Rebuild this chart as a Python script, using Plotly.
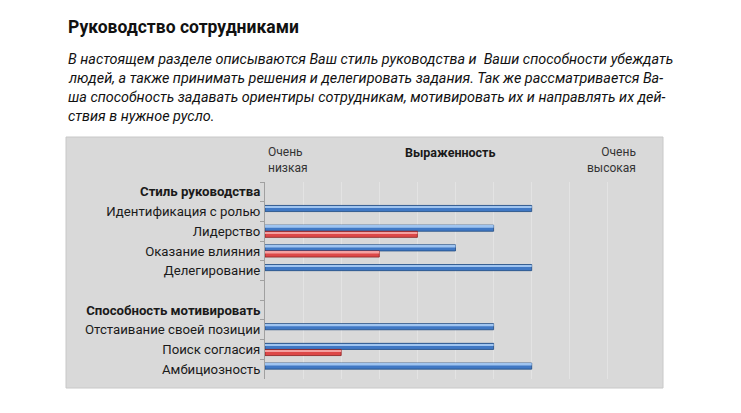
import plotly.graph_objects as go

W, H = 741, 413
# the page body adds an 8px offset; work in window pixels and compensate
OFF = 8

categories = [
    "<b>Стиль руководства</b>",
    "Идентификация с ролью",
    "Лидерство",
    "Оказание влияния",
    "Делегирование",
    " ",
    "<b>Способность мотивировать</b>",
    "Отстаивание своей позиции",
    "Поиск согласия",
    "Амбициозность",
]
blue_values = [None, 7, 6, 5, 7, None, None, 6, 6, 7]
red_values = [None, None, 4, 3, None, None, None, None, 2, None]

title_text = "Руководство сотрудниками"
paragraph_lines = [
    "В настоящем разделе описываются Ваш стиль руководства и  Ваши способности убеждать",
    "людей, а также принимать решения и делегировать задания. Так же рассматривается Ва-",
    "ша способность задавать ориентиры сотрудникам, мотивировать их и направлять их дей-",
    "ствия в нужное русло.",
]

# plot area in window pixels
PL, PR, PT, PB = 265, 646, 182, 379
FW, FH = W - OFF, H - OFF


def px(x):
    return (x - PL) / (PR - PL)


def py(y):
    return (PB - y) / (PB - PT)


FONT = "Roboto"

fig = go.Figure()

# main bars
fig.add_trace(go.Bar(
    y=categories, x=blue_values, orientation="h",
    offset=-0.31, width=0.31,
    marker=dict(color="#4078c4", line=dict(color="#1f4a80", width=0.8)),
    hoverinfo="x", name="blue",
))
fig.add_trace(go.Bar(
    y=categories, x=red_values, orientation="h",
    offset=0.0, width=0.31,
    marker=dict(color="#dd4848", line=dict(color="#8a2020", width=0.8)),
    hoverinfo="x", name="red",
))
# highlight strips for a glossy look
fig.add_trace(go.Bar(
    y=categories, x=blue_values, orientation="h",
    offset=-0.27, width=0.09,
    marker=dict(color="#9fc4f0", line=dict(width=0)),
    hoverinfo="skip",
))
fig.add_trace(go.Bar(
    y=categories, x=red_values, orientation="h",
    offset=0.04, width=0.09,
    marker=dict(color="#f4a0a0", line=dict(width=0)),
    hoverinfo="skip",
))

fig.update_layout(
    width=FW, height=FH,
    margin=dict(l=PL - OFF, r=FW - (PR - OFF), t=PT - OFF, b=FH - (PB - OFF)),
    paper_bgcolor="white",
    plot_bgcolor="white",
    barmode="overlay",
    showlegend=False,
    font=dict(family=FONT, size=12, color="#222"),
)

fig.update_xaxes(
    range=[0, 10], dtick=1, showticklabels=False,
    showgrid=True, gridcolor="#e3e3e3", gridwidth=1,
    zeroline=False, showline=False, fixedrange=True,
)
fig.update_yaxes(
    autorange="reversed", tickson="boundaries",
    ticks="outside", ticklen=4, tickcolor="#a0a0a0",
    showline=True, linecolor="#a0a0a0", linewidth=1,
    showgrid=False, ticklabelstandoff=1,
    tickfont=dict(family=FONT, size=13.2, color="#1a1a1a"),
)

# grey chart area box
fig.add_shape(
    type="rect", xref="paper", yref="paper", layer="below",
    x0=px(66), x1=px(663), y0=py(388), y1=py(137),
    fillcolor="#d9d9d9", line=dict(color="#c8c8c8", width=1),
)

# header texts over the chart
fig.add_annotation(
    xref="paper", yref="paper", x=px(266), y=py(160),
    text="Очень<br>низкая", showarrow=False, xanchor="left", yanchor="middle",
    align="left", font=dict(family=FONT, size=12, color="#333"),
)
fig.add_annotation(
    xref="paper", yref="paper", x=px(450), y=py(153),
    text="<b>Выраженность</b>", showarrow=False, xanchor="center", yanchor="middle",
    font=dict(family=FONT, size=12.5, color="#1a1a1a"),
)
fig.add_annotation(
    xref="paper", yref="paper", x=px(638), y=py(160),
    text="Очень<br>высокая", showarrow=False, xanchor="right", yanchor="middle",
    align="right", font=dict(family=FONT, size=12, color="#333"),
)

# page title and paragraph
fig.add_annotation(
    xref="paper", yref="paper", x=px(66), y=py(27),
    text="<b>" + title_text + "</b>", showarrow=False,
    xanchor="left", yanchor="middle",
    font=dict(family=FONT, size=17.5, color="#111"),
)
for i, line in enumerate(paragraph_lines):
    fig.add_annotation(
        xref="paper", yref="paper", x=px(66), y=py(59 + i * 19.3),
        text="<i>" + line + "</i>", showarrow=False,
        xanchor="left", yanchor="middle",
        font=dict(family=FONT, size=14.4, color="#111"),
    )

fig.write_html("out.html")
